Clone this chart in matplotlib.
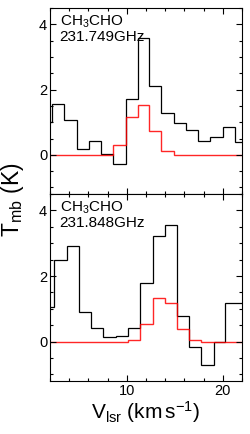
import matplotlib
matplotlib.use('Agg')
import matplotlib.pyplot as plt
from matplotlib.ticker import MultipleLocator

plt.rcParams['font.family'] = ['Liberation Sans', 'DejaVu Sans']
plt.rcParams['mathtext.fontset'] = 'custom'
plt.rcParams['mathtext.rm'] = 'Liberation Sans'
plt.rcParams['mathtext.it'] = 'Liberation Sans:italic'

# channel edges (km/s) and brightness (K)
edges_1 = [1.0, 2.25, 3.5, 4.78, 6.06, 7.31, 8.6, 9.9, 11.15, 12.35, 13.6,
           14.87, 16.17, 17.42, 18.7, 19.99, 21.24, 22.5]
obs_1 = [1.02, 1.57, 1.08, 0.17, 0.41, 0.03, -0.29, 1.71, 3.58, 2.10, 1.27,
         0.97, 0.75, 0.42, 0.54, 0.85, 0.39]
model_1 = [0, 0, 0, 0, 0, 0, 0.29, 1.15, 1.54, 0.74, 0.11, 0.01, 0, 0, 0, 0, 0]

edges_2 = [1.15, 2.43, 3.73, 5.02, 6.27, 7.55, 8.85, 10.1, 11.39, 12.68,
           13.93, 15.22, 16.51, 17.76, 19.05, 20.2, 22.9]
obs_2 = [1.07, 2.48, 2.92, 0.90, 0.41, 0.13, 0.16, 0.43, 1.80, 3.21, 3.55,
         0.77, -0.16, -0.71, -0.02, 1.19]
model_2 = [0, 0, 0, 0, 0, 0, 0, 0.06, 0.54, 1.34, 1.19, 0.39, 0.04, 0, 0, 0]

species = ["CH$_3$CHO", "CH$_3$CHO"]
freqs = ["231.749GHz", "231.848GHz"]

fig = plt.figure(figsize=(2.5, 4.34), dpi=100)
ax1 = fig.add_axes([0.2, 0.553, 0.768, 0.4286])
ax2 = fig.add_axes([0.2, 0.122, 0.768, 0.431])

panels = [(ax1, edges_1, obs_1, model_1), (ax2, edges_2, obs_2, model_2)]
for i, (ax, e, obs, mod) in enumerate(panels):
    ax.stairs(obs, e, baseline=None, color='k', lw=0.9)
    ax.stairs(mod, e, baseline=None, color='red', lw=1.0, alpha=0.85)
    ax.set_xlim(2, 22)
    ax.set_ylim(-1.2, 4.5)
    ax.xaxis.set_major_locator(MultipleLocator(10))
    ax.xaxis.set_minor_locator(MultipleLocator(2))
    ax.yaxis.set_major_locator(MultipleLocator(2))
    ax.yaxis.set_minor_locator(MultipleLocator(0.5))
    ax.tick_params(which='both', direction='in', top=True, right=True,
                   labelsize=10.5, width=0.8, pad=2)
    ax.tick_params(which='major', length=4.5)
    ax.tick_params(which='minor', length=2.5)
    for s in ax.spines.values():
        s.set_linewidth(0.8)
    ax.text(0.05, 0.905, species[i], transform=ax.transAxes, fontsize=11,
            va='baseline')
    ax.text(0.05, 0.823, freqs[i], transform=ax.transAxes, fontsize=11,
            va='baseline')

ax1.tick_params(labelbottom=False)
ax2.set_xlabel(r"V$_{\rm lsr}$ (km$\,$s$^{-1}$)", fontsize=15, labelpad=1)
fig.text(0.052, 0.539, r"T$_{\rm mb}$ (K)", rotation=90, fontsize=16.5,
         ha='center', va='center')

fig.savefig("out.png", dpi=100)
